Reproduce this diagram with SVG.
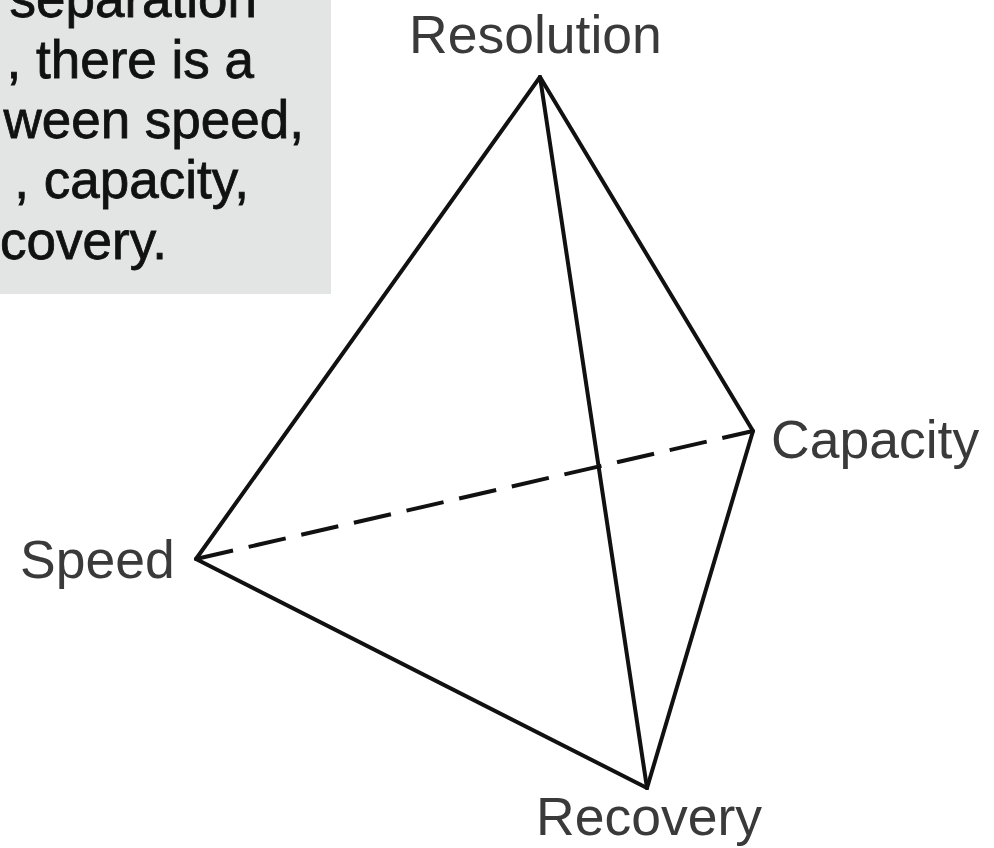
<svg xmlns="http://www.w3.org/2000/svg" width="994" height="848" viewBox="0 0 994 848">
<style>
.box{font-family:"Liberation Sans",Arial,sans-serif;font-size:53px;fill:#111;stroke:#111;stroke-width:0.8;}
.lbl{font-family:"Liberation Sans",Arial,sans-serif;font-size:53.5px;fill:#3a3a3a;}
.edge{stroke:#111;stroke-width:4;fill:none;stroke-linecap:round;stroke-linejoin:round;}
.dash{stroke-dasharray:38 16;stroke-linecap:butt;}
</style>
<rect width="994" height="848" fill="#ffffff"/>
<g id="note">
<rect x="0" y="0" width="331" height="294" fill="#e3e5e5"/>
<text class="box" x="257" y="17" text-anchor="end">separation</text>
<text class="box" x="254" y="78" text-anchor="end">, there is a</text>
<text class="box" x="304" y="138" text-anchor="end">ween speed,</text>
<text class="box" x="249" y="198" text-anchor="end">, capacity,</text>
<text class="box" x="167" y="259" text-anchor="end">covery.</text>
</g>
<g id="connectors">
<line class="edge" x1="540" y1="77" x2="196" y2="559"/>
<line class="edge" x1="540" y1="77" x2="753" y2="431"/>
<line class="edge" x1="540" y1="77" x2="647" y2="788"/>
<line class="edge" x1="196" y1="559" x2="647" y2="788"/>
<line class="edge" x1="753" y1="431" x2="647" y2="788"/>
<line class="edge dash" x1="196" y1="559" x2="753" y2="431"/>
</g>
<g id="resolution"><text class="lbl" x="409" y="53">Resolution</text></g>
<g id="capacity"><text class="lbl" x="771" y="458">Capacity</text></g>
<g id="speed"><text class="lbl" x="20" y="578">Speed</text></g>
<g id="recovery"><text class="lbl" x="536" y="835">Recovery</text></g>
</svg>
